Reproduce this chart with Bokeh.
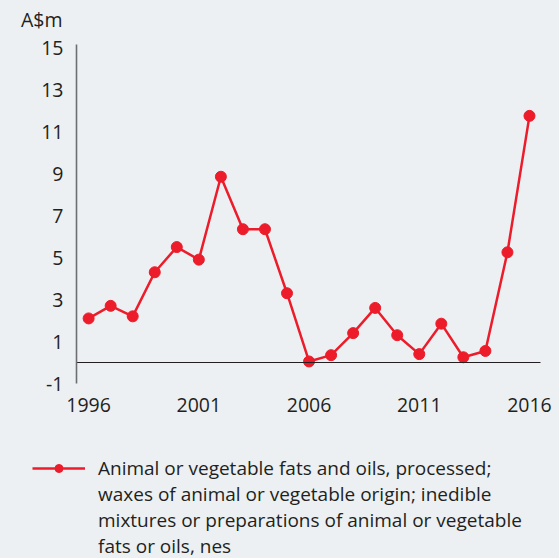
from bokeh.plotting import figure
from bokeh.models import Range1d, Legend, LegendItem, FixedTicker, LinearAxis, Label
from bokeh.embed import file_html
from bokeh.resources import INLINE

years = list(range(1996, 2017))
values = [2.1, 2.7, 2.2, 4.3, 5.5, 4.9, 8.85, 6.35, 6.35, 3.3, 0.05,
          0.35, 1.4, 2.6, 1.3, 0.4, 1.85, 0.25, 0.55, 5.25, 11.75]
x_ticks = [1996, 2001, 2006, 2011, 2016]
y_ticks = [-1, 1, 3, 5, 7, 9, 11, 13, 15]
unit_label = "A$m"
legend_lines = ["Animal or vegetable fats and oils, processed;",
                "waxes of animal or vegetable origin; inedible",
                "mixtures or preparations of animal or vegetable",
                "fats or oils, nes"]

BG = "#ECF0F3"
RED = "#EC1C2A"
TXT = "#231F20"
FONT = "Open Sans"

# plotting area (data extents of the drawn axes)
X0, X1 = 1995.45, 2016.5
Y0, Y1 = -1.0, 15.15
W, H = 559, 558
FL, FR, FT, FB = 76, 540, 44, 383          # pixel box of the axes
sx = (FR - FL) / (X1 - X0)
sy = (FB - FT) / (Y1 - Y0)
x_range = Range1d(X0 - FL / sx, X1 + (W - FR) / sx)
y_range = Range1d(Y0 - (H - FB) / sy, Y1 + FT / sy)

p = figure(width=W, height=H, output_backend="svg", toolbar_location=None,
           x_range=x_range, y_range=y_range, x_axis_location=None, y_axis_location=None,
           min_border=0)
p.background_fill_color = BG
p.border_fill_color = BG
p.outline_line_color = None
p.grid.visible = False


def style(ax):
    ax.major_tick_line_color = None
    ax.minor_tick_line_color = None
    ax.major_tick_out = 0
    ax.major_tick_in = 0
    ax.minor_tick_out = 0
    ax.minor_tick_in = 0
    ax.major_label_text_font = FONT
    ax.major_label_text_font_size = "19.5px"
    ax.major_label_text_color = TXT


yax = LinearAxis(ticker=FixedTicker(ticks=y_ticks), fixed_location=X0, bounds=(Y0, Y1))
style(yax)
yax.major_label_overrides = {-1: "-1"}
yax.axis_line_color = "#6D6E71"
yax.axis_line_width = 1.6
yax.major_label_standoff = 13
p.add_layout(yax, "left")

xax = LinearAxis(ticker=FixedTicker(ticks=x_ticks), fixed_location=Y0, bounds=(X0, X1))
style(xax)
xax.axis_line_color = None
xax.major_label_standoff = 14
p.add_layout(xax, "below")

zax = LinearAxis(ticker=FixedTicker(ticks=[]), fixed_location=0, bounds=(X0, X1))
style(zax)
zax.major_label_text_font_size = "0px"
zax.axis_line_color = "#231F20"
zax.axis_line_width = 1.2
p.add_layout(zax, "below")

r = p.line(years, values, line_color=RED, line_width=2.5)
c = p.scatter(years, values, size=11, fill_color=RED, line_color=RED)
blank = p.line(x=[], y=[], line_alpha=0)

p.add_layout(Label(x=X0, y=Y1, x_offset=-14, y_offset=12, text=unit_label,
                   text_align="right", text_baseline="bottom",
                   text_font=FONT, text_font_size="19.5px", text_color=TXT))

items = [LegendItem(label=legend_lines[0], renderers=[r, c])]
for t in legend_lines[1:]:
    items.append(LegendItem(label=t, renderers=[blank]))

legend = Legend(items=items, location=(32, -1), margin=0, padding=0, spacing=0,
                background_fill_alpha=0, border_line_color=None,
                label_text_font=FONT, label_text_font_size="19px", label_text_color=TXT,
                label_height=20, glyph_height=20, glyph_width=53, label_standoff=13)
p.add_layout(legend, "center")

html = file_html(p, INLINE)
html = html.replace("<body>", '<body style="background:%s">' % BG)
open("out.html", "w").write(html)
